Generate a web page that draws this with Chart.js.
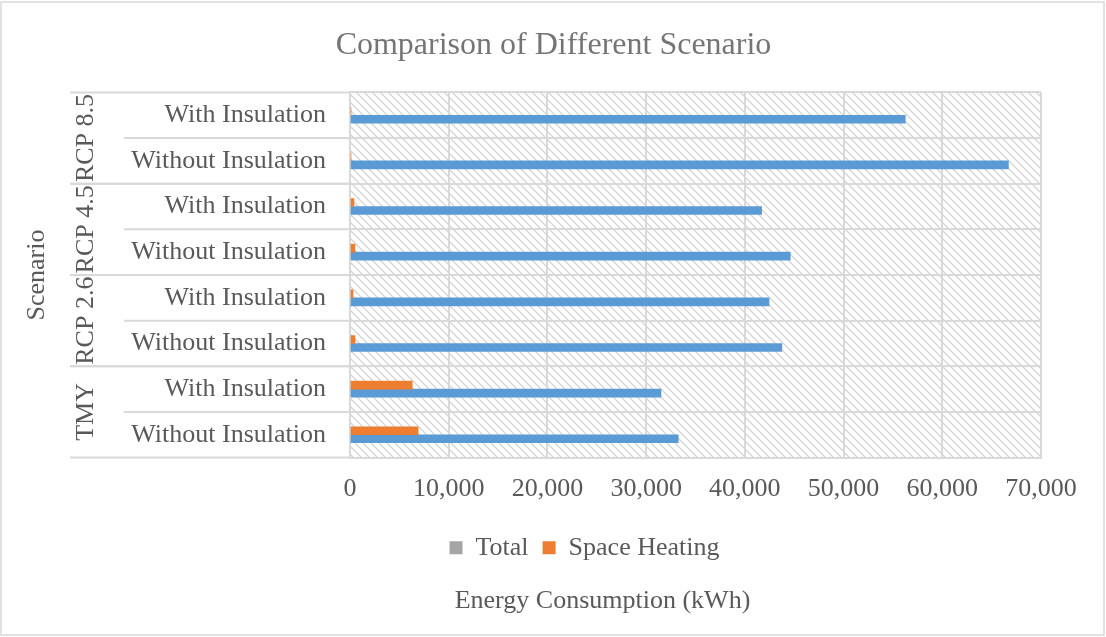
<!DOCTYPE html>
<html>
<head>
<meta charset="utf-8">
<title>Comparison of Different Scenario</title>
<script src="https://cdn.jsdelivr.net/npm/chart.js@4.4.1/dist/chart.umd.min.js"></script>
<style>
    body { margin: 0; background: #fff; }
    #wrap { width: 1106px; height: 637px; position: relative; }
</style>
</head>
<body>
<div id="wrap"><canvas id="chart"></canvas></div>
<script>
// DATA (first category sits at the bottom, like the original)
let groups = ["TMY", "RCP 2.6", "RCP 4.5", "RCP 8.5"];
let subLabels = [
    "Without Insulation", "With Insulation",
    "Without Insulation", "With Insulation",
    "Without Insulation", "With Insulation",
    "Without Insulation", "With Insulation"
];
let totalValues = [33250, 31500, 43750, 42450, 44600, 41700, 66700, 56250];
let heatingValues = [6900, 6300, 500, 300, 500, 400, 100, 100];
let xTicks = [0, 10000, 20000, 30000, 40000, 50000, 60000, 70000];

let textColor = "#595959";
let lineColor = "#d9d9d9";
Chart.defaults.font.family = "'Liberation Serif', 'Times New Roman', serif";
Chart.defaults.font.size = 26;
Chart.defaults.color = textColor;

// hatched plot background
function hatch(ctx) {
    let c = document.createElement("canvas");
    c.width = 8; c.height = 8;
    let p = c.getContext("2d");
    p.strokeStyle = "#d6d6d6";
    p.lineWidth = 1.4;
    p.beginPath();
    p.moveTo(0, 0); p.lineTo(8, 8);
    p.moveTo(-4, 4); p.lineTo(4, 12);
    p.moveTo(4, -4); p.lineTo(12, 4);
    p.stroke();
    return ctx.createPattern(c, "repeat");
}

// FRAME, GROUP LABELS
let frame = {
    id: "frame",
    afterLayout(chart) {
        // move title, legend and bottom title sideways like the original
        let shift = (box, dx) => { if (box) { box.left += dx; box.right += dx; } };
        shift(chart.titleBlock, 33);
        shift(chart.legend, 64);
        shift(chart.boxes.find(b => b.options && b.options.text === "Energy Consumption (kWh)"), 82);
    },
    beforeDraw(chart) {
        let ctx = chart.ctx, a = chart.chartArea;
        ctx.save();
        ctx.fillStyle = "#fff";
        ctx.fillRect(0, 0, chart.width, chart.height);
        ctx.fillStyle = hatch(ctx);
        ctx.fillRect(a.left, a.top, a.right - a.left, a.bottom - a.top);
        ctx.strokeStyle = lineColor;
        ctx.lineWidth = 1.5;
        ctx.strokeRect(1, 2, chart.width - 3, chart.height - 4);
        ctx.restore();
    },
    afterDraw(chart) {
        let ctx = chart.ctx, a = chart.chartArea, y = chart.scales.y;
        let half = Math.abs(y.getPixelForValue(1) - y.getPixelForValue(0)) / 2;
        ctx.save();
        ctx.strokeStyle = lineColor;
        ctx.lineWidth = 2;
        groups.forEach((g, i) => {
            let p0 = y.getPixelForValue(i * 2);
            let p1 = y.getPixelForValue(i * 2 + 1);
            // group borders
            ctx.beginPath();
            ctx.moveTo(70, p0 + half); ctx.lineTo(a.left, p0 + half);
            ctx.moveTo(70, p1 - half); ctx.lineTo(a.left, p1 - half);
            // line between the two sub labels
            ctx.moveTo(124, (p0 + p1) / 2); ctx.lineTo(a.left, (p0 + p1) / 2);
            ctx.stroke();

            ctx.save();
            ctx.translate(86, (p0 + p1) / 2);
            ctx.rotate(-Math.PI / 2);
            ctx.fillStyle = textColor;
            ctx.font = "26px 'Liberation Serif', serif";
            ctx.textAlign = "center";
            ctx.textBaseline = "middle";
            ctx.fillText(g, 0, 0);
            ctx.restore();
        });
        ctx.restore();
    }
};

new Chart(document.getElementById("chart"), {
    type: "bar",
    data: {
        labels: subLabels,
        datasets: [
            { label: "Space Heating", data: heatingValues, backgroundColor: "#ed7d31", barThickness: 8 },
            { label: "Total", data: totalValues, backgroundColor: "#5b9bd5", barThickness: 8 }
        ]
    },
    options: {
        indexAxis: "y",
        responsive: true,
        maintainAspectRatio: false,
        animation: false,
        layout: { padding: { left: 0, right: 65, top: 0, bottom: 0 } },
        scales: {
            x: {
                min: xTicks[0],
                max: xTicks[xTicks.length - 1],
                afterBuildTicks(scale) { scale.ticks = xTicks.map(v => ({ value: v })); },
                ticks: { padding: 16, color: textColor },
                grid: { color: lineColor, lineWidth: 2, drawTicks: false },
                border: { color: lineColor, width: 2 }
            },
            y: {
                reverse: true,
                afterFit(scale) { scale.width = 350; },
                ticks: { padding: 24, color: textColor },
                grid: { color: lineColor, lineWidth: 2, drawTicks: false, offset: true },
                border: { color: lineColor, width: 2 },
                title: { display: true, text: "Scenario", color: textColor, padding: { top: 22, bottom: 0 } }
            }
        },
        plugins: {
            title: {
                display: true,
                text: "Comparison of Different Scenario",
                color: "#757575",
                font: { size: 32, weight: "normal" },
                padding: { top: 26, bottom: 28 }
            },
            subtitle: {
                display: true,
                position: "bottom",
                text: "Energy Consumption (kWh)",
                color: textColor,
                font: { size: 26, weight: "normal" },
                padding: { top: 15, bottom: 20 }
            },
            legend: {
                position: "bottom",
                labels: {
                    boxWidth: 13,
                    boxHeight: 13,
                    padding: 14,
                    color: textColor,
                    sort: (a, b) => b.datasetIndex - a.datasetIndex,
                    generateLabels(chart) {
                        let items = Chart.defaults.plugins.legend.labels.generateLabels(chart);
                        items.forEach(it => {
                            if (it.text === "Total") it.fillStyle = "#a5a5a5";
                            it.strokeStyle = it.fillStyle;
                            it.lineWidth = 0;
                        });
                        return items;
                    }
                }
            },
            tooltip: { enabled: false }
        }
    },
    plugins: [frame]
});
</script>
</body>
</html>
